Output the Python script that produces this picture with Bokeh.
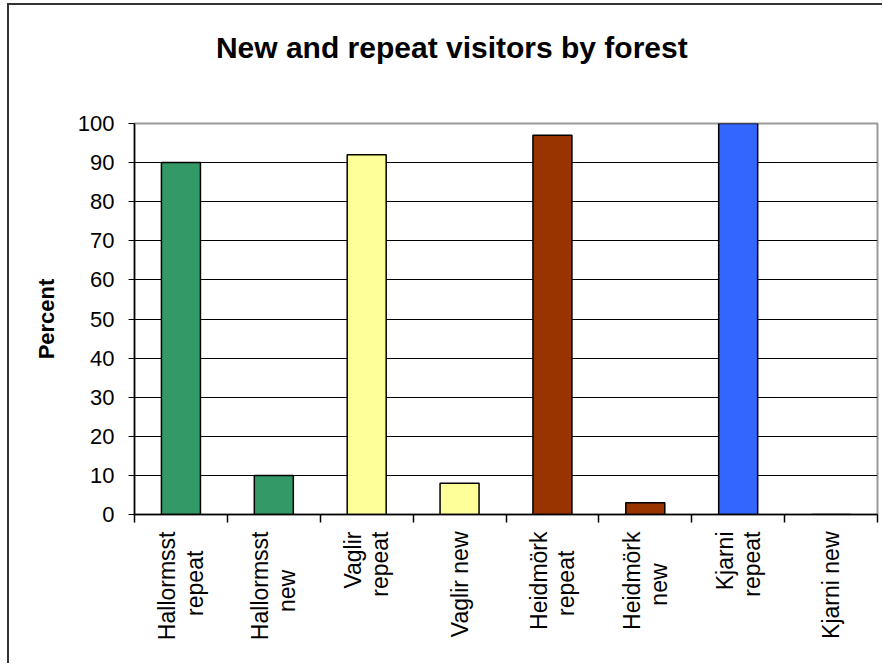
from math import pi
from bokeh.plotting import figure
from bokeh.models import Range1d, FixedTicker, ColumnDataSource, LinearAxis
from bokeh.embed import file_html
from bokeh.resources import INLINE

# ---- data ----
title_text = "New and repeat visitors by forest"
categories = ["Hallormsst repeat", "Hallormsst new", "Vaglir repeat", "Vaglir new",
              "Heidmörk repeat", "Heidmörk new", "Kjarni repeat", "Kjarni new"]
# second lines padded with no-break spaces so that the two lines sit centred
tick_labels = ["Hallormsst\nrepeat\u00a0\u00a0\u00a0",
               "Hallormsst\nnew\u00a0\u00a0\u00a0\u00a0\u00a0\u00a0",
               "Vaglir\nrepeat",
               "Vaglir new",
               "Heidmörk\nrepeat\u00a0\u00a0\u00a0",
               "Heidmörk\nnew\u00a0\u00a0\u00a0\u00a0\u00a0",
               "Kjarni\nrepeat",
               "Kjarni new"]
percent = [90, 10, 92, 8, 97, 3, 100, 0]
bar_colors = ["#339966", "#339966", "#FFFF99", "#FFFF99",
              "#993300", "#993300", "#3366FF", "#3366FF"]
y_ticks = [0, 10, 20, 30, 40, 50, 60, 70, 80, 90, 100]

FONT = "Liberation Sans"
n = len(categories)
pos = list(range(n))
edges = [i - 0.5 for i in range(n + 1)]

source = ColumnDataSource(dict(x=pos, val=percent, color=bar_colors, name=categories))

p = figure(width=875, height=660, x_range=Range1d(-0.5, n - 0.5),
           y_range=Range1d(0, 100),
           toolbar_location=None, output_backend="svg",
           min_border_left=125, min_border_right=7,
           min_border_top=118, min_border_bottom=151)

p.border_fill_color = "white"
p.background_fill_color = "white"
p.styles = {"margin-left": "7px", "margin-top": "3px",
            "border-left": "2px solid #333333", "border-top": "2px solid #333333"}

# bottom axis (keep a handle before adding the title axis)
xa = p.below[0]
ya = p.left[0]

# title drawn as the label of an empty axis above the plot
title_axis = LinearAxis(ticker=FixedTicker(ticks=[]),
                        axis_line_color=None,
                        major_tick_out=0, major_tick_in=0,
                        minor_tick_out=0, minor_tick_in=0,
                        major_label_standoff=0,
                        axis_label=title_text + "\u00a0" * 13,
                        axis_label_text_font=FONT,
                        axis_label_text_font_size="30px",
                        axis_label_text_font_style="bold",
                        axis_label_text_color="black",
                        axis_label_standoff=60)
p.add_layout(title_axis, "above")

p.outline_line_color = "#999999"
p.outline_line_width = 2

p.vbar(x="x", top="val", width=0.42, source=source, fill_color="color",
       line_color="black", line_width=1.5)

# y axis
ya.ticker = FixedTicker(ticks=y_ticks)
ya.axis_label = "Percent"
ya.axis_label_text_font = FONT
ya.axis_label_text_font_size = "22px"
ya.axis_label_text_font_style = "bold"
ya.axis_label_text_color = "black"
ya.axis_label_standoff = 16
ya.major_label_text_font = FONT
ya.major_label_text_font_size = "22px"
ya.major_label_text_color = "black"
ya.major_label_standoff = 14
ya.major_tick_out = 6
ya.major_tick_in = 0
ya.minor_tick_out = 0
ya.minor_tick_in = 0
ya.axis_line_color = "black"
ya.axis_line_width = 1.5
ya.major_tick_line_color = "black"

p.ygrid.ticker = FixedTicker(ticks=y_ticks)
p.ygrid.grid_line_color = "black"
p.ygrid.grid_line_width = 1
p.xgrid.grid_line_color = None

# x axis: labels at category centres, tick marks at category boundaries
xa.ticker = FixedTicker(ticks=pos, minor_ticks=edges)
xa.major_label_overrides = dict(zip(pos, tick_labels))
xa.major_tick_out = 0
xa.major_tick_in = 0
xa.minor_tick_out = 8
xa.minor_tick_in = 0
xa.minor_tick_line_color = "black"
xa.minor_tick_line_width = 1.5
xa.axis_line_color = "black"
xa.axis_line_width = 1.5
xa.major_label_orientation = pi / 2
xa.major_label_text_font = FONT
xa.major_label_text_font_size = "23px"
xa.major_label_text_line_height = 1.05
xa.major_label_text_color = "black"
xa.major_label_standoff = 9

open("out.html", "w").write(file_html(p, INLINE))
